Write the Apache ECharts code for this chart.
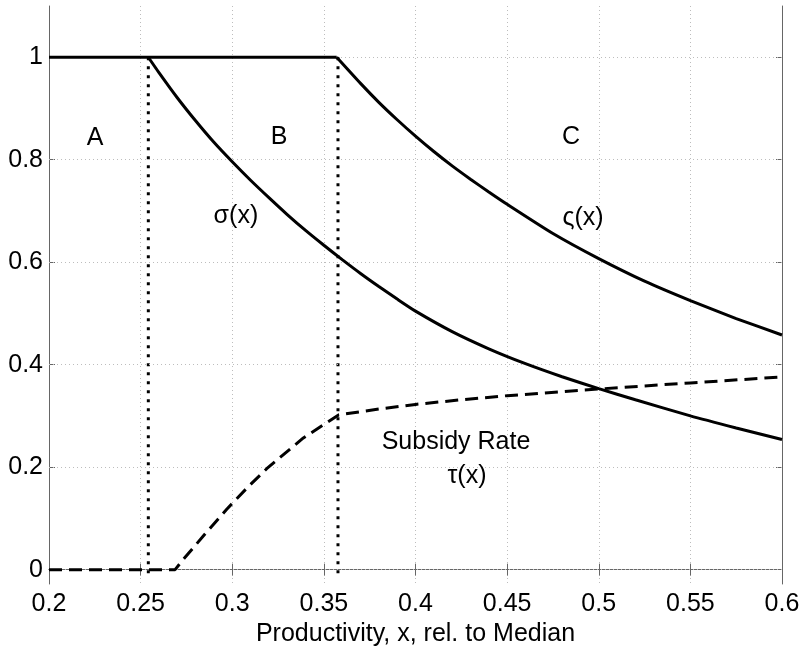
<!DOCTYPE html>
<html>
<head>
<meta charset="utf-8">
<script src="https://cdn.jsdelivr.net/npm/echarts@6/dist/echarts.min.js"></script>
<style>
html,body{margin:0;padding:0;background:#fff;}
#chart{width:803px;height:648px;}
</style>
</head>
<body>
<div id="chart"></div>
<script>
// ---- data ----
var xTicks = [0.2, 0.25, 0.3, 0.35, 0.4, 0.45, 0.5, 0.55, 0.6];
var yTicks = [0, 0.2, 0.4, 0.6, 0.8, 1];

// plateau at 1 shared by both curves
var plateauX = [0.2, 0.357];
var plateauY = [1, 1];

// sigma(x)
var sigmaX = [0.2542, 0.26, 0.27, 0.28, 0.29, 0.30, 0.31, 0.32, 0.33, 0.34, 0.35, 0.36, 0.37, 0.38, 0.39, 0.40, 0.42, 0.44, 0.46, 0.48, 0.50, 0.52, 0.55, 0.575, 0.60];
var sigmaY = [1.0, 0.970, 0.921, 0.876, 0.834, 0.796, 0.760, 0.726, 0.693, 0.662, 0.633, 0.605, 0.578, 0.5525, 0.528, 0.5045, 0.4645, 0.431, 0.402, 0.3765, 0.3533, 0.3315, 0.300, 0.2765, 0.254];

// varsigma(x)
var vsigX = [0.357, 0.37, 0.38, 0.39, 0.40, 0.41, 0.42, 0.43, 0.44, 0.45, 0.475, 0.50, 0.525, 0.55, 0.575, 0.60];
var vsigY = [1.0, 0.949, 0.912, 0.878, 0.846, 0.816, 0.788, 0.762, 0.737, 0.713, 0.656, 0.607, 0.563, 0.525, 0.490, 0.458];

// subsidy rate tau(x)
var tauX = [0.2, 0.2688, 0.2733, 0.285, 0.297, 0.3085, 0.3188, 0.3388, 0.358, 0.38, 0.40, 0.425, 0.45, 0.50, 0.55, 0.60];
var tauY = [0, 0, 0.02, 0.069, 0.118, 0.161, 0.197, 0.257, 0.302, 0.3135, 0.3225, 0.3315, 0.3395, 0.3525, 0.3645, 0.376];

// region boundaries (dotted verticals)
var boundaryX = [0.2542, 0.3577];
var boundaryTop = 1;
var boundaryBottom = -0.015;

// text annotations [x, y, text]
var annotations = [
  [0.2251, 0.842, 'A'],
  [0.3255, 0.845, 'B'],
  [0.4849, 0.844, 'C'],
  [0.302, 0.689, 'σ(x)'],
  [0.4914, 0.687, 'ς(x)'],
  [0.4221, 0.2497, 'Subsidy Rate'],
  [0.4281, 0.183, 'τ(x)']
];

var xName = 'Productivity, x, rel. to Median';

// ---- chart ----
function pairs(xs, ys) { return xs.map(function (x, i) { return [x, ys[i]]; }); }

var FONT = "'Liberation Sans', Arial, Helvetica, sans-serif";
var FS = 25;
var AXIS_COLOR = '#666';
var GRID_COLOR = '#bdbdbd';

var chart = echarts.init(document.getElementById('chart'), null, {renderer: 'canvas'});

var xMin = 0.2, xMax = 0.6, yMin = -0.028, yMax = 1.1;

var series = [];

// horizontal grid lines
series.push({
  type: 'line', data: [], xAxisIndex: 0, yAxisIndex: 0, silent: true, z: 1,
  markLine: {
    silent: true, symbol: 'none', animation: false,
    label: {show: false},
    lineStyle: {type: [1, 3], color: GRID_COLOR, width: 1},
    data: yTicks.map(function (v) { return {yAxis: v}; })
  }
});

series.push({
  type: 'line', data: pairs(plateauX, plateauY), showSymbol: false, symbol: 'none',
  lineStyle: {color: '#000', width: 3}, z: 5, animation: false
});
series.push({
  type: 'line', data: pairs(sigmaX, sigmaY), showSymbol: false, symbol: 'none',
  smooth: 0.2,
  lineStyle: {color: '#000', width: 3}, z: 5, animation: false
});
series.push({
  type: 'line', data: pairs(vsigX, vsigY), showSymbol: false, symbol: 'none',
  smooth: 0.2,
  lineStyle: {color: '#000', width: 3}, z: 5, animation: false
});
series.push({
  type: 'line', data: pairs(tauX, tauY), showSymbol: false, symbol: 'none',
  lineStyle: {color: '#000', width: 3, type: [13, 7]}, z: 5, animation: false
});
boundaryX.forEach(function (bx) {
  series.push({
    type: 'line', data: [[bx, boundaryTop], [bx, boundaryBottom]], showSymbol: false, symbol: 'none',
    lineStyle: {color: '#000', width: 3, type: [3, 6]}, z: 4, animation: false
  });
});
series.push({
  type: 'scatter', symbolSize: 0, silent: true, z: 6, animation: false,
  itemStyle: {color: '#000', opacity: 1},
  data: annotations.map(function (a) { return {value: [a[0], a[1]], name: a[2]}; }),
  label: {
    show: true, position: 'inside', formatter: function (p) { return p.name; },
    color: '#000', opacity: 1, textBorderWidth: 0, fontFamily: FONT, fontSize: FS,
    align: 'center', verticalAlign: 'middle'
  }
});

var option = {
  backgroundColor: '#fff',
  animation: false,
  textStyle: {fontFamily: FONT},
  grid: {left: 49, top: 6, width: 733, height: 578, containLabel: false, outerBoundsMode: 'none'},
  xAxis: [{
    type: 'value', min: xMin, max: xMax, interval: 0.05, position: 'bottom',
    name: xName, nameLocation: 'middle', nameGap: 33,
    nameTextStyle: {color: '#000', fontFamily: FONT, fontSize: FS},
    axisLine: {show: true, lineStyle: {color: AXIS_COLOR, width: 1}},
    axisTick: {show: true, inside: true, length: 6, lineStyle: {color: AXIS_COLOR}},
    axisLabel: {color: '#000', fontFamily: FONT, fontSize: FS, margin: 8,
      formatter: function (v) { return String(+v.toFixed(2)); }},
    splitLine: {show: true, lineStyle: {type: [1, 3], color: GRID_COLOR, width: 1}}
  }, {
    type: 'value', min: xMin, max: xMax, interval: 0.05, position: 'top',
    axisLine: {show: true, lineStyle: {color: AXIS_COLOR, width: 1}},
    axisTick: {show: true, inside: true, length: 6, lineStyle: {color: AXIS_COLOR}},
    axisLabel: {show: false},
    splitLine: {show: false}
  }],
  yAxis: [{
    type: 'value', min: yMin, max: yMax, position: 'left',
    axisLine: {show: true, lineStyle: {color: AXIS_COLOR, width: 1}},
    axisTick: {show: true, inside: true, length: 6, customValues: yTicks, lineStyle: {color: AXIS_COLOR}},
    axisLabel: {color: '#000', fontFamily: FONT, fontSize: FS, margin: 6, customValues: yTicks,
      formatter: function (v) { return String(+(+v).toFixed(2)); }},
    splitLine: {show: false}
  }, {
    type: 'value', min: yMin, max: yMax, position: 'right',
    axisLine: {show: true, lineStyle: {color: AXIS_COLOR, width: 1}},
    axisTick: {show: true, inside: true, length: 6, customValues: yTicks, lineStyle: {color: AXIS_COLOR}},
    axisLabel: {show: false},
    splitLine: {show: false}
  }],
  series: series
};

chart.setOption(option);
</script>
</body>
</html>
